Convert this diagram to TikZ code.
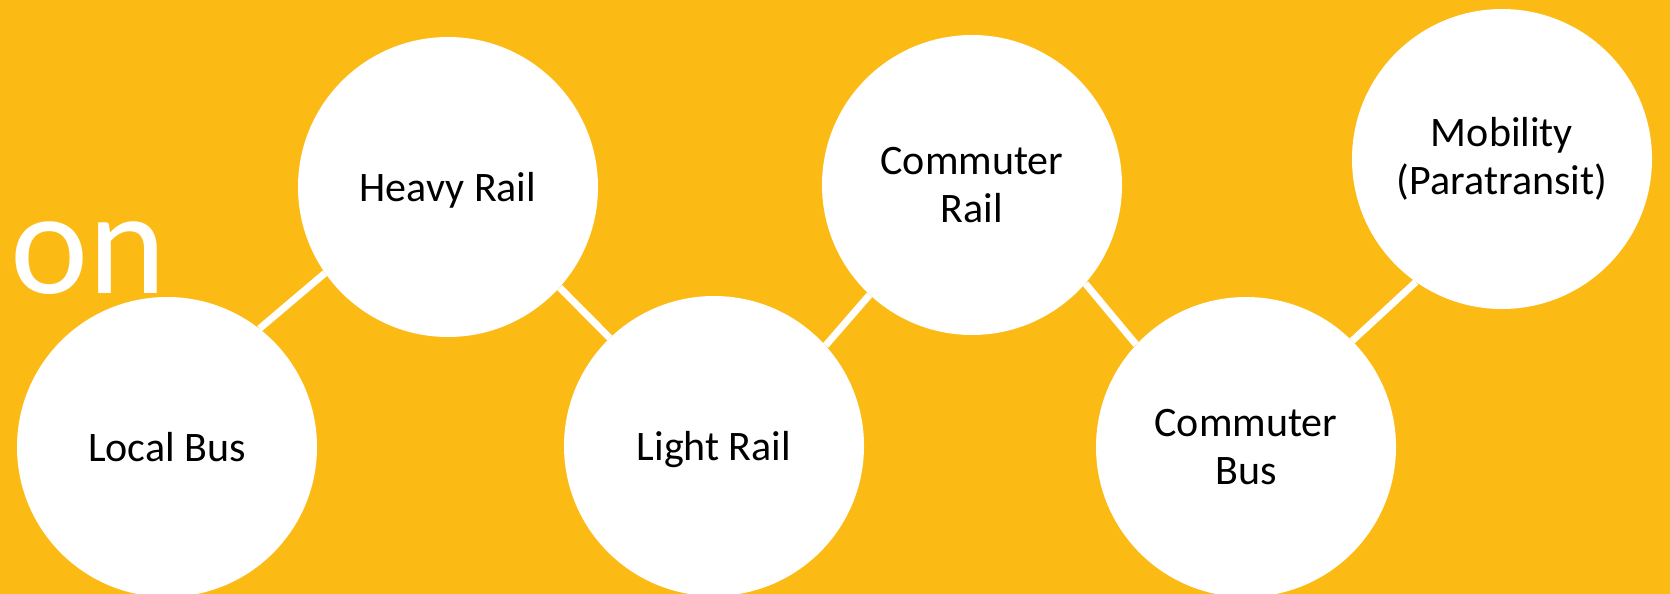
\documentclass[tikz,border=0pt]{standalone}
\usepackage{fontspec}
\setmainfont{Carlito}
\definecolor{bgyellow}{RGB}{252,186,21}
\begin{document}
\begin{tikzpicture}[x=1pt,y=-1pt,
  mode/.style={circle,fill=white,draw=none,minimum size=300pt,inner sep=0pt,
    align=center,font=\fontsize{42}{48}\selectfont,text=black},
  nodesc/.style={text depth=0pt},
  link/.style={draw=white,line width=7pt}]
\fill[bgyellow] (0,0) rectangle (1670,594);
\useasboundingbox (0,0) rectangle (1670,594);
\node[anchor=base west,inner sep=0pt,text=white,font=\fontsize{148}{148}\selectfont] (title) at (10,293) {on};
\node[mode] (lb) at (167,447) {Local Bus};
\node[mode,nodesc] (hr) at (448,187) {Heavy Rail};
\node[mode,nodesc] (lr) at (714,446) {Light Rail};
\node[mode] (cr) at (972,185) {Commuter\\Rail};
\node[mode] (cb) at (1246,447) {Commuter\\Bus};
\node[mode] (mb) at (1502,159) {Mobility\\(Paratransit)};
\draw[link] (lb.52) -- (hr.215);
\draw[link] (hr.-42) -- (lr.134);
\draw[link] (lr.42) -- (cr.227);
\draw[link] (cr.-41) -- (cb.137);
\draw[link] (cb.45) -- (mb.235);
\end{tikzpicture}
\end{document}
